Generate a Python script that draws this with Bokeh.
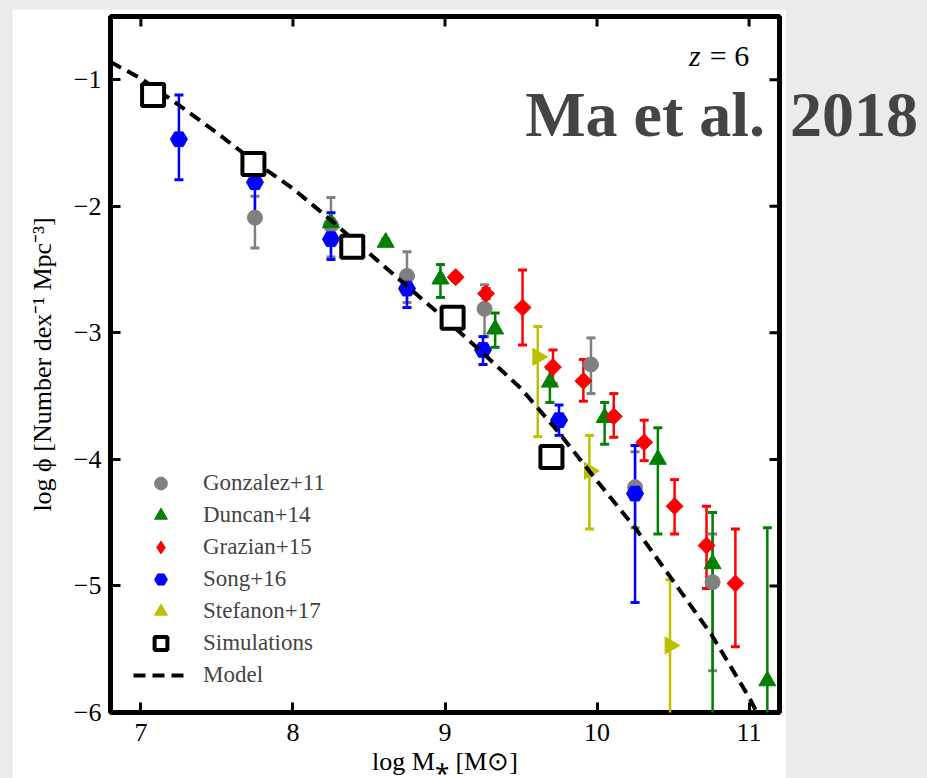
import numpy as np
from bokeh.plotting import figure
from bokeh.layouts import row
from bokeh.models import (ColumnDataSource, FixedTicker, Legend, LegendItem,
                          Label, Range1d, Div)
from bokeh.embed import file_html
from bokeh.resources import INLINE

# ---------------- data ----------------
gon_x = [7.75, 8.25, 8.75, 9.26, 9.96, 10.25, 10.76]
gon_y = [-2.09, -2.15, -2.55, -2.81, -3.25, -4.22, -4.97]
gon_hi = [-1.92, -1.93, -2.36, -2.62, -3.04, -3.94, -4.59]
gon_lo = [-2.33, -2.40, -2.76, -3.03, -3.48, -4.54, -5.67]

dun_x = [8.25, 8.61, 8.97, 9.33, 9.69, 10.05, 10.40, 10.76, 11.12]
dun_y = [-2.13, -2.285, -2.575, -2.97, -3.39, -3.67, -4.00, -4.825, -5.75]
dun_hi = [-2.10, -2.26, -2.46, -2.843, -3.28, -3.55, -3.75, -4.42, -4.54]
dun_lo = [-2.16, -2.31, -2.72, -3.114, -3.55, -3.88, -4.59, -7.0, -7.0]

gra_x = [9.07, 9.27, 9.51, 9.71, 9.91, 10.11, 10.31, 10.51, 10.72, 10.91]
gra_y = [-2.56, -2.69, -2.80, -3.27, -3.38, -3.66, -3.865, -4.37, -4.68, -4.98]
gra_hi = [-2.53, -2.65, -2.503, -3.135, -3.21, -3.48, -3.69, -4.16, -4.37, -4.55]
gra_lo = [-2.59, -2.73, -3.096, -3.40, -3.54, -3.825, -4.01, -4.59, -5.02, -5.48]

son_x = [7.25, 7.75, 8.25, 8.75, 9.25, 9.75, 10.25]
son_y = [-1.47, -1.81, -2.26, -2.65, -3.135, -3.69, -4.27]
son_hi = [-1.12, -1.72, -2.05, -2.58, -3.03, -3.57, -3.89]
son_lo = [-1.79, -2.05, -2.42, -2.80, -3.25, -3.81, -5.13]

ste_x = [9.61, 9.95, 10.48]
ste_y = [-3.19, -4.09, -5.47]
ste_hi = [-2.95, -3.81, -4.95]
ste_lo = [-3.82, -4.55, -7.0]

sim_x = [7.08, 7.74, 8.39, 9.05, 9.70]
sim_y = [-1.12, -1.666, -2.32, -2.88, -3.98]

model_x = [6.80, 7.0, 7.25, 7.5, 7.75, 8.0, 8.25, 8.5, 8.75, 9.0, 9.25, 9.5,
           9.75, 10.0, 10.25, 10.5, 10.75, 11.0, 11.06]
model_y = [-0.86, -0.99, -1.20, -1.42, -1.65, -1.86, -2.11, -2.37, -2.63, -2.89,
           -3.16, -3.44, -3.79, -4.17, -4.54, -4.96, -5.38, -5.88, -6.02]

x_ticks = [7, 8, 9, 10, 11]
y_ticks = [-1, -2, -3, -4, -5, -6]
y_tick_labels = ["\u22121", "\u22122", "\u22123", "\u22124", "\u22125", "\u22126"]
X_RANGE = (6.8, 11.2)
Y_RANGE = (-6.0, -0.5)

series = [
    ("Gonzalez+11", gon_x, gon_y, gon_hi, gon_lo, "#808080", "circle", 15, 0.0),
    ("Duncan+14", dun_x, dun_y, dun_hi, dun_lo, "#008000", "triangle", 17, 0.0),
    ("Grazian+15", gra_x, gra_y, gra_hi, gra_lo, "#ff0000", "square", 12, np.pi / 4),
    ("Song+16", son_x, son_y, son_hi, son_lo, "#0000ff", "hex", 17, 0.0),
    ("Stefanon+17", ste_x, ste_y, ste_hi, ste_lo, "#bfbf00", "triangle", 17, -np.pi / 2),
]

SERIF = "Liberation Serif"

# ---------------- figure ----------------
p = figure(width=774, height=769, x_range=Range1d(*X_RANGE), y_range=Range1d(*Y_RANGE),
           output_backend="svg", toolbar_location=None,
           min_border_left=98, min_border_right=7, min_border_top=7, min_border_bottom=66,
           border_fill_color="white", background_fill_color="white",
           outline_line_color="black", outline_line_width=5, margin=(9, 0, 0, 12))
p.grid.visible = False

xax = p.below[0]
yax = p.left[0]
for ax, ticks in [(xax, x_ticks), (yax, y_ticks)]:
    ax.ticker = FixedTicker(ticks=ticks)
    ax.major_tick_in = 10
    ax.major_tick_out = 0
    ax.major_tick_line_width = 3
    ax.major_tick_line_color = "black"
    ax.minor_tick_line_color = None
    ax.axis_line_color = None
    ax.major_label_text_font = SERIF
    ax.major_label_text_font_size = "26px"
    ax.major_label_text_color = "black"
    ax.axis_label_text_font = SERIF
    ax.axis_label_text_font_size = "26px"
    ax.axis_label_text_font_style = "normal"
    ax.axis_label_text_color = "black"

yax.major_label_overrides = {t: s for t, s in zip(y_ticks, y_tick_labels)}
xax.major_label_standoff = 11
yax.major_label_standoff = 9
xax.axis_label = "log M\u204e [M\u2299]"
yax.axis_label = "log \u03d5 [Number dex\u207b\u00b9 Mpc\u207b\u00b3]"
xax.axis_label_standoff = 3
yax.axis_label_standoff = 14

# mirrored inward ticks on top and right edges (half of each dash is clipped by the frame)
p.scatter(x=x_ticks, y=[Y_RANGE[1]] * len(x_ticks), marker="dash", angle=np.pi / 2,
          size=20, line_color="black", line_width=3)
p.scatter(x=[X_RANGE[1]] * len(y_ticks), y=y_ticks, marker="dash", size=20,
          line_color="black", line_width=3)

# ---------------- error bars (below all markers) ----------------
for name, xs, ys, hi, lo, col, mk, sz, ang in series:
    src = ColumnDataSource(dict(x=xs, hi=hi, lo=lo))
    p.segment(x0="x", y0="lo", x1="x", y1="hi", source=src, line_color=col, line_width=2.5)
    cap_src = ColumnDataSource(dict(x=list(xs) + list(xs), y=list(hi) + list(lo)))
    p.scatter(x="x", y="y", source=cap_src, marker="dash", size=9, line_color=col, line_width=3)

# ---------------- markers ----------------
items = []
for name, xs, ys, hi, lo, col, mk, sz, ang in series:
    src = ColumnDataSource(dict(x=xs, y=ys))
    r = p.scatter(x="x", y="y", source=src, marker=mk, size=sz, angle=ang,
                  fill_color=col, line_color=col, line_width=1)
    if mk == "square":
        # legend swatch: Bokeh draws legend markers unrotated, so use a diamond there
        leg = p.scatter(x=[float("nan")], y=[float("nan")], marker="diamond", size=sz,
                        fill_color=col, line_color=col)
        items.append(LegendItem(label=name, renderers=[leg]))
    else:
        items.append(LegendItem(label=name, renderers=[r]))

# ---------------- model & simulations ----------------
model_r = p.line(model_x, model_y, line_color="black", line_width=4, line_dash="12 7")
sim_r = p.scatter(sim_x, sim_y, marker="square", size=22, fill_color="white",
                  line_color="black", line_width=4)
items.append(LegendItem(label="Simulations", renderers=[sim_r]))
items.append(LegendItem(label="Model", renderers=[model_r]))

legend = Legend(items=items, location=(23, 21), glyph_width=55, glyph_height=32,
                label_height=32, spacing=0, padding=0, margin=0, label_standoff=15,
                border_line_color=None, background_fill_alpha=0,
                label_text_font=SERIF, label_text_font_size="23px")
p.add_layout(legend)

# ---------------- texts ----------------
p.add_layout(Label(x=10.604, y=-0.8043, text="z", text_font=SERIF, text_font_style="italic",
                   text_font_size="30px", text_color="black", text_baseline="alphabetic"))
p.add_layout(Label(x=10.742, y=-0.8043, text="= 6", text_font=SERIF,
                   text_font_size="30px", text_color="black", text_baseline="alphabetic"))
p.add_layout(Label(x=9.527, y=-1.2708, text="Ma et al.", text_font=SERIF,
                   text_font_style="bold", text_font_size="64px", text_color="#444444",
                   text_baseline="alphabetic", level="overlay"))

year = Div(text="2018", width=137, height=100, margin=(83, 0, 0, 4),
           styles={"font-family": SERIF, "font-weight": "bold", "font-size": "64px",
                   "line-height": "64px", "color": "#444444", "white-space": "nowrap"})

page = row(p, year, width=927, height=778, styles={"background-color": "#ebebeb"})

open("out.html", "w").write(file_html(page, INLINE))
